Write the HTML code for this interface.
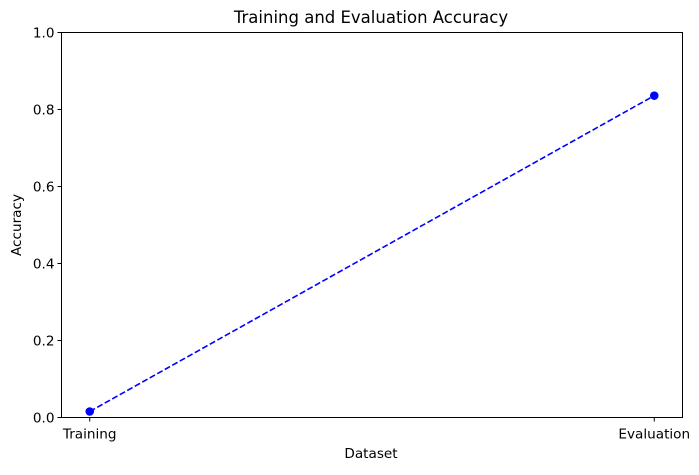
<!DOCTYPE html>
<html><head><meta charset="utf-8"><style>
body{margin:0;background:#fff;}
svg text{font-family:"DejaVu Sans","Liberation Sans",sans-serif;fill:#000;}
</style></head><body>
<svg width="699" height="470" xmlns="http://www.w3.org/2000/svg">
<rect width="699" height="470" fill="#fff"/>
<text x="371" y="23" font-size="16.5" text-anchor="middle">Training and Evaluation Accuracy</text>
<g id="yticks"></g>
<g id="xticks"></g>
<g id="series"></g>
<rect x="61.5" y="32.5" width="621" height="385" fill="none" stroke="#000" stroke-width="1"/>
<text x="371" y="458" font-size="13.6" text-anchor="middle">Dataset</text>
<text transform="translate(21,225) rotate(-90)" font-size="13.6" text-anchor="middle">Accuracy</text>
</svg>
<script>
const categories = ["Training", "Evaluation"];
const accuracy = [0.0156, 0.836];
const yTicks = [0, 0.2, 0.4, 0.6, 0.8, 1.0];
const yTickLabels = ["0.0", "0.2", "0.4", "0.6", "0.8", "1.0"];

const L = 61.5, R = 682.5, T = 32.5, B = 417.5;
const NS = "http://www.w3.org/2000/svg";
function xs(i){ return L + (i + 0.05) / 1.1 * (R - L); }
function ys(v){ return B - v * (B - T); }
function mk(tag, attrs, parent){ const e = document.createElementNS(NS, tag); for (const k in attrs) e.setAttribute(k, attrs[k]); parent.appendChild(e); return e; }

const yg = document.getElementById('yticks');
yTicks.forEach((v, i) => {
  const y = ys(v);
  const t = mk('line', {x1: L - 4, x2: L, y1: y, y2: y, stroke: '#000'}, yg);
  
  
  const tx = mk('text', {x: L - 7, y: y + 5, 'font-size': 13.6, 'text-anchor': 'end'}, yg);
  tx.textContent = yTickLabels[i];
  
  
});
const xg = document.getElementById('xticks');
categories.forEach((c, i) => {
  const x = xs(i);
  const t = mk('line', {x1: x, x2: x, y1: B, y2: B + 4, stroke: '#000'}, xg);
  
  
  const tx = mk('text', {x: x, y: B + 21, 'font-size': 13.6, 'text-anchor': 'middle'}, xg);
  tx.textContent = c;
  
  
});
const sg = document.getElementById('series');
const pts = accuracy.map((v, i) => xs(i) + ',' + ys(v)).join(' ');
const line = mk('polyline', {points: pts, fill: 'none', stroke: '#0000ff', 'stroke-width': 1.6, 'stroke-dasharray': '6,2.6'}, sg);


accuracy.forEach((v, i) => {
  const c = mk('circle', {cx: xs(i), cy: ys(v), r: 4.3, fill: '#0000ff'}, sg);
  
  
});
</script>
</body></html>
